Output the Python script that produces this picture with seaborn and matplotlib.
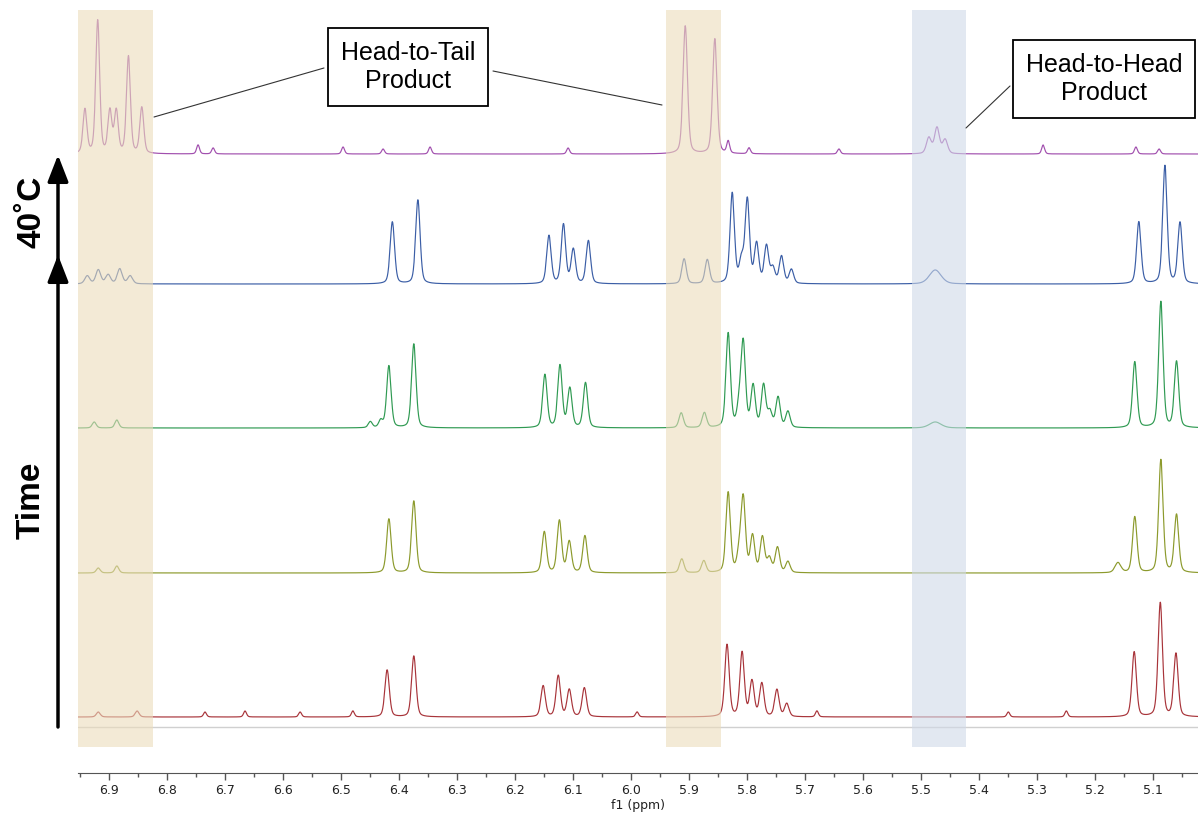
import numpy as np
import pandas as pd
import matplotlib.pyplot as plt
import seaborn as sns

# chemical shift window (ppm, reversed axis)
ppm_left, ppm_right = 6.954, 5.023

# trace names, colours and stacking offsets (bottom = earliest)
traces = ['40C', 't4', 't3', 't2', 't1']
trace_colors = ['#a14fae', '#3b5ea6', '#2f9a52', '#8c9a2c', '#a8343a']
trace_offsets = [619, 489, 345, 200, 56]

# peak lists: position (ppm), height (stack units), half width (ppm)
p40_ppm = [6.942, 6.920, 6.899, 6.888, 6.867, 6.844, 5.907, 5.856, 5.487, 5.473, 5.459,
           6.747, 6.721, 6.497, 6.428, 6.347, 6.109, 5.833, 5.797, 5.642, 5.290, 5.130, 5.090]
p40_h = [44, 133, 42, 42, 97, 46, 128, 115, 16, 26, 14,
         9, 6, 7, 5, 7, 6, 12, 6, 5, 9, 7, 5]
p40_w = [0.004] * 6 + [0.0045] * 2 + [0.005] * 3 + [0.003] * 12

t4_ppm = [6.938, 6.919, 6.902, 6.882, 6.864, 6.412, 6.368, 6.142, 6.117, 6.100, 6.074,
          5.909, 5.869, 5.826, 5.810, 5.800, 5.784, 5.767, 5.756, 5.741, 5.724, 5.476,
          5.125, 5.080, 5.054]
t4_h = [8, 14, 9, 15, 8, 62, 84, 48, 59, 34, 43,
        25, 24, 90, 22, 83, 39, 37, 15, 27, 14, 14,
        62, 118, 61]
t4_w = [0.005] * 5 + [0.0045] * 16 + [0.012] + [0.0045] * 3

t3_ppm = [6.926, 6.887, 6.450, 6.432, 6.418, 6.375, 6.149, 6.123, 6.106, 6.079,
          5.914, 5.874, 5.833, 5.814, 5.807, 5.790, 5.772, 5.761, 5.747, 5.730, 5.476,
          5.132, 5.087, 5.060]
t3_h = [6, 8, 6, 7, 62, 84, 53, 62, 39, 45,
        15, 15, 94, 20, 83, 41, 42, 15, 30, 16, 6,
        66, 126, 66]
t3_w = [0.004] * 4 + [0.0045] * 16 + [0.012] + [0.0045] * 3

t2_ppm = [6.919, 6.887, 6.418, 6.375, 6.150, 6.124, 6.107, 6.080,
          5.913, 5.875, 5.833, 5.814, 5.807, 5.791, 5.774, 5.762, 5.748, 5.730,
          5.161, 5.132, 5.087, 5.060]
t2_h = [5, 7, 54, 72, 41, 52, 31, 37,
        14, 12, 80, 18, 73, 36, 35, 14, 25, 11,
        10, 56, 113, 58]
t2_w = [0.004] * 2 + [0.0045] * 16 + [0.006] + [0.0045] * 3

t1_ppm = [6.919, 6.852, 6.421, 6.375, 6.152, 6.126, 6.107, 6.081,
          5.835, 5.809, 5.792, 5.775, 5.749, 5.732, 5.133, 5.088, 5.061,
          6.735, 6.666, 6.571, 6.480, 5.990, 5.680, 5.350, 5.250]
t1_h = [5, 6, 47, 61, 31, 41, 27, 29,
        72, 64, 35, 33, 27, 13, 65, 114, 63,
        5, 6, 5, 6, 5, 6, 5, 6]
t1_w = [0.004] * 2 + [0.0045] * 15 + [0.003] * 8

peak_sets = [(p40_ppm, p40_h, p40_w), (t4_ppm, t4_h, t4_w), (t3_ppm, t3_h, t3_w),
             (t2_ppm, t2_h, t2_w), (t1_ppm, t1_h, t1_w)]

# highlighted regions
band_lo = [6.825, 5.846, 5.423]
band_hi = [6.954, 5.940, 5.516]
band_colors = ['#ebdcbb', '#ebdcbb', '#d0dae8']


def spectrum(x, pos, height, width, eta=0.35):
    y = np.zeros_like(x)
    for p, h, w in zip(pos, height, width):
        d = (x - p) / w
        y += h * (eta / (1 + d ** 2) + (1 - eta) * np.exp(-np.log(2) * d ** 2))
    return y


grid = np.linspace(ppm_right, ppm_left, 6000)
frames = []
for name, off, (pos, h, w) in zip(traces, trace_offsets, peak_sets):
    frames.append(pd.DataFrame({'ppm': grid,
                                'intensity': off + spectrum(grid, pos, h, w),
                                'trace': name}))
df = pd.concat(frames, ignore_index=True)

sns.set_style('white')
plt.rcParams['font.family'] = ['DejaVu Sans']

W, H = 1198, 813
fig = plt.figure(figsize=(W / 100, H / 100), dpi=100)
ax = fig.add_axes([78 / W, (H - 773) / H, (W - 78) / W, 773 / H])

sns.lineplot(data=df, x='ppm', y='intensity', hue='trace', hue_order=traces,
             palette=trace_colors, estimator=None, sort=False, legend=False,
             lw=0.85, ax=ax, zorder=2)

ax.axhline(46, color='#d0d0d0', lw=1, zorder=1)
for lo, hi, c in zip(band_lo, band_hi, band_colors):
    ax.axvspan(lo, hi, ymin=26 / 773, ymax=763 / 773, color=c, alpha=0.6, lw=0, zorder=3)

ax.set_xlim(ppm_left, ppm_right)
ax.set_ylim(0, 773)
ax.set_yticks([])
ax.set_xticks(np.round(np.arange(5.1, 6.95, 0.1), 2))
ax.set_xticks(np.round(np.arange(5.05, 6.96, 0.05), 2), minor=True)
ax.tick_params(axis='x', which='both', bottom=True)
ax.tick_params(axis='x', which='major', direction='out', length=5, width=1,
               color='#555555', labelsize=9, labelcolor='#222222', pad=3)
ax.tick_params(axis='x', which='minor', direction='out', length=3, width=1, color='#555555')
for s in ['top', 'left', 'right']:
    ax.spines[s].set_visible(False)
ax.spines['bottom'].set_color('#555555')
ax.set_xlabel('f1 (ppm)', fontsize=9, color='#222222', labelpad=1)
ax.set_ylabel('')


def fp(x, y):
    # pixel position (from top-left) to figure fraction
    return (x / W, 1 - y / H)


bold = dict(family=['Liberation Sans', 'DejaVu Sans'], fontsize=24, fontweight='bold',
            rotation=90, ha='center', va='center', color='black')
fig.text(*fp(32, 212), '40˚C', **bold)
fig.text(*fp(31, 500), 'Time', **bold)
arrow = dict(arrowstyle='-|>,head_length=0.9,head_width=0.35', lw=2.5, color='black',
             shrinkA=0, shrinkB=0, mutation_scale=18)
ax.annotate('', xy=fp(58, 155), xytext=fp(58, 272), xycoords='figure fraction',
            textcoords='figure fraction', arrowprops=arrow)
ax.annotate('', xy=fp(58, 255), xytext=fp(58, 727), xycoords='figure fraction',
            textcoords='figure fraction', arrowprops=arrow)

box = dict(boxstyle='square,pad=0.5', fc='white', ec='black', lw=1.3)
label_font = dict(family=['Liberation Sans', 'DejaVu Sans'], fontsize=18, color='black',
                  ha='center', va='center', linespacing=1.25, zorder=6)
fig.text(*fp(408, 67), 'Head-to-Tail\nProduct', bbox=box, **label_font)
fig.text(*fp(1104, 79), 'Head-to-Head\nProduct', bbox=box, **label_font)

leader = dict(arrowstyle='-', lw=0.8, color='#333333', shrinkA=0, shrinkB=0)
for start, end in [((324, 68), (154, 117)), ((493, 71), (662, 105)), ((1010, 86), (966, 128))]:
    ax.annotate('', xy=fp(*end), xytext=fp(*start), xycoords='figure fraction',
                textcoords='figure fraction', arrowprops=leader)

fig.savefig('out.png', dpi=100)
